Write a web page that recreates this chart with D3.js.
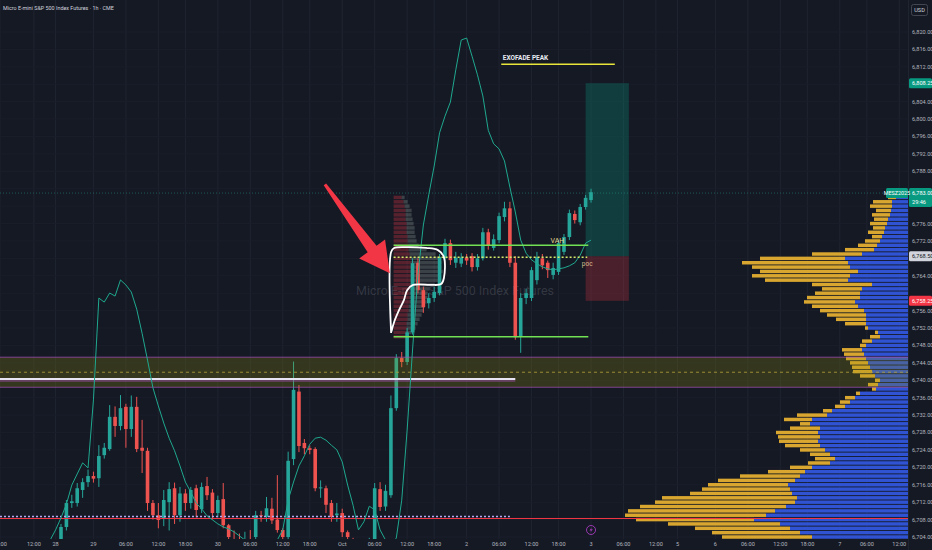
<!DOCTYPE html>
<html>
<head>
  <meta charset="utf-8">
  <title>MES 1h</title>
  <script src="https://cdn.jsdelivr.net/npm/d3@7/dist/d3.min.js"></script>
  <style>
    body { margin: 0; background: #151924; }
    svg { display: block; font-family: Roboto, "Noto Sans", sans-serif; }
  </style>
</head>
<body>
  <svg width="932" height="550" id="mainsvg"></svg>
  <script>
    // ---- data ----
    const timeLabels = ['18:00', '12:00', '28', '29', '06:00', '12:00', '18:00', '30', '06:00', '12:00', '18:00', 'Oct',
      '06:00', '12:00', '18:00', '2', '06:00', '12:00', '18:00', '3', '06:00', '12:00', '5', '6', '06:00', '12:00', '18:00', '7', '06:00', '12:00'];
    const timeIdx = [-63.3, -57, -53, -46, -40, -34, -29, -23, -17, -11, -6, 0,
      6, 12, 17, 23, 29, 35, 40, 46, 52, 58, 62, 69, 75, 81, 86, 92, 97, 103];

    const firstBar = -52;
    const opens = [6703, 6706.3, 6711.8, 6711.8, 6714.8, 6716.6, 6718, 6717.5, 6722.8, 6724.2, 6731.6, 6729.5, 6733.9, 6728.8, 6733.9,
      6724.5, 6723.8, 6711.8, 6709, 6708.3, 6712, 6715.2, 6709, 6714, 6711.8, 6715.2, 6710.4, 6715.7, 6714.2, 6709.5, 6712.7,
      6706.7, 6703.5, 6703, 6702, 6702.5, 6704, 6709, 6708.6, 6710.5, 6708, 6705.6, 6704, 6721.9, 6737.4, 6725.6, 6724.4, 6724.2,
      6715.2, 6715.2, 6711.8, 6709, 6709.5, 6705.1, 6703.5, 6701, 6700, 6701.5, 6703, 6715, 6711, 6713.6, 6733.6, 6745.1, 6744.2,
      6751, 6767, 6760.7, 6757.7, 6758.9, 6760, 6768, 6771.5, 6767, 6766.8, 6768.2, 6768.5, 6766, 6768, 6774, 6770.4, 6772.2,
      6777.5, 6779.5, 6767, 6750, 6758.9, 6758.9, 6763, 6768, 6767, 6764.2, 6764.9, 6769.5, 6772.9, 6778.2, 6776.3, 6779.8, 6781.4];
    const highs = [6707, 6712.5, 6713.7, 6716.4, 6717.5, 6719.5, 6719, 6725.1, 6725.6, 6734.3, 6734, 6736.6, 6734.6, 6736.5, 6736.2,
      6730.9, 6724.5, 6712.5, 6711.8, 6714.8, 6716.6, 6716.5, 6715.5, 6715, 6715.5, 6716, 6716.5, 6717.8, 6715, 6713.5, 6716.4,
      6707, 6705.5, 6704.8, 6705.2, 6705.6, 6710, 6710, 6713.2, 6713, 6718.2, 6706, 6723.6, 6744.3, 6738.9, 6726.5, 6725, 6724.6,
      6717, 6715.8, 6712.5, 6711.8, 6710.5, 6705.5, 6703.8, 6702, 6702.8, 6703.8, 6716.4, 6716.6, 6716, 6736.5, 6746, 6746.5, 6752,
      6768, 6768, 6761.5, 6760, 6761.5, 6769, 6772.5, 6772.3, 6769.5, 6769.2, 6769, 6769.2, 6769, 6775, 6774.8, 6773.5, 6778.5,
      6781, 6781, 6768.5, 6760, 6761, 6766, 6769.5, 6769, 6767.5, 6767, 6772.3, 6773.6, 6779.2, 6779, 6780.5, 6782.6, 6784];
    const lows = [6701, 6705.5, 6710.7, 6711, 6713, 6715.5, 6716.5, 6715.5, 6722, 6723.8, 6727, 6728.5, 6724.5, 6727, 6723.5,
      6718.7, 6710, 6708, 6706, 6706.5, 6705.5, 6707, 6707.5, 6710, 6710.5, 6708.5, 6709.5, 6712.5, 6708, 6708.5, 6706,
      6703.5, 6701, 6700, 6700, 6700, 6703, 6707.5, 6707.5, 6707, 6705, 6703, 6703.5, 6720.5, 6723.5, 6723, 6723, 6714.5,
      6713, 6709.5, 6707.5, 6707.5, 6704, 6702, 6699, 6698, 6699, 6700.5, 6702, 6710, 6710, 6713, 6733, 6743, 6743.5,
      6750.5, 6760, 6755.5, 6756.5, 6758, 6759.5, 6767.5, 6766.5, 6765.8, 6766, 6766.5, 6765, 6765.2, 6767.5, 6770, 6769.8, 6771.5,
      6776.5, 6766, 6749.3, 6746.3, 6757.5, 6758.2, 6762, 6765.5, 6763.5, 6763.2, 6764.2, 6768.8, 6772.2, 6776, 6775.6, 6779.2, 6780.8];
    const closes = [6706.3, 6711.8, 6712.2, 6715.2, 6716.6, 6718, 6717.4, 6722.6, 6724.5, 6731.6, 6729.5, 6733.6, 6728.8, 6733.9, 6724.2,
      6723.8, 6711.8, 6709, 6707.9, 6712.5, 6715, 6709, 6714, 6711.8, 6714.8, 6710.2, 6715.5, 6713.6, 6709.5, 6712.5, 6706.7,
      6704, 6703, 6702, 6702.5, 6702, 6709, 6708.8, 6710.6, 6707.8, 6705.6, 6704, 6721.5, 6737.8, 6724.9, 6724.4, 6724, 6715.2,
      6715.4, 6711.4, 6708.6, 6709.4, 6705.1, 6704, 6701, 6700, 6701.5, 6703, 6715.2, 6710.9, 6714.6, 6733.6, 6745.1, 6744.2, 6751,
      6766.9, 6760.7, 6756.8, 6758.9, 6760.3, 6768.3, 6771.5, 6767.6, 6768.2, 6768.2, 6767.5, 6766, 6768, 6774, 6771, 6772.4, 6777.7,
      6779.5, 6767, 6749.9, 6758.9, 6760, 6765.3, 6768.3, 6766.4, 6765.3, 6765.8, 6771.5, 6772.9, 6778.4, 6776.8, 6779.8, 6781.9, 6783.2];

    // oscillator overlay (own 0-100 scale)
    const indFirst = -54;
    const indValues = [0, 2, 4.4, 7.1, 10.9, 13.1, 15.3, 14.3, 27.8, 48, 47.2, 49, 48.4, 51.6, 50.6, 49.2, 45.8, 41, 35.7, 30.2,
      26.6, 23.2, 20.2, 17.7, 14.7, 11.5, 9.5, 7.3, 6.2, 4.8, 4, 3.2, 2.6, 2.2, 1.6, 0.8, 0, -1, -2, -1.6, -1, -0.4, 0, 2, 7.9,
      11.5, 14.7, 16.7, 19, 20.2, 20.4, 19.8, 18.8, 17.9, 15.5, 10.9, 6.9, 2, 3.6, 6.7, 6, 2, 0, -1, 0.4, 7.9, 21.8, 37.7, 52.6,
      62.5, 68.5, 74.2, 80.8, 84.1, 86.9, 93.3, 99.2, 99.6, 96, 92.3, 88.1, 81.3, 78.6, 77.6, 75.2, 70, 65.1, 59.5, 56.9, 55.6,
      54.8, 54.2, 53.8, 53.6, 53.8, 54, 54.4, 55, 56.5, 58.9, 59.5];

    // visible range volume profile, rows 6783 -> 6704
    const profTop = 6783;
    const profUp = [10, 12, 16, 16, 17, 18, 20, 21, 23, 24, 26, 28, 31, 34, 46, 63, 60, 58, 50, 58, 60, 36, 46, 48, 48, 53, 50, 44,
      42, 42, 42, 40, 30, 28, 36, 42, 46, 44, 42, 40, 38, 36, 33, 28, 30, 32, 48, 53, 58, 63, 76, 81, 96, 98, 88, 90, 88, 90, 88,
      83, 78, 73, 78, 96, 103, 108, 113, 120, 118, 116, 111, 113, 122, 133, 142, 154, 128, 118, 108, 96];
    const profDown = [8, 8, 19, 22, 15, 18, 14, 17, 12, 16, 10, 15, 19, 29, 50, 85, 106, 98, 98, 98, 83, 60, 40, 45, 53, 51, 46, 44,
      39, 30, 21, 3, 3, 10, 10, 6, 20, 20, 20, 18, 18, 19, 15, 5, 10, 4, 4, 10, 10, 10, 9, 30, 28, 10, 30, 42, 42, 39, 35, 25, 20,
      20, 22, 22, 37, 60, 77, 80, 88, 102, 135, 140, 146, 147, 141, 118, 112, 95, 88, 90];

    // session (fixed range) profile, rows 6782 -> 6750
    const sessTop = 6782;
    const sessSell = [8, 10, 11, 12, 12, 12, 13, 13, 13, 14, 14, 15, 15, 16, 17, 17, 17, 17, 17, 17, 17, 16, 16, 16, 16, 15, 15, 14, 14, 13, 13, 12, 11];
    const sessBuy = [3, 4, 5, 6, 6, 7, 7, 8, 8, 8, 9, 10, 18, 26, 30, 31, 31, 32, 30, 28, 24, 20, 18, 18, 17, 16, 15, 14, 12, 11, 9, 6, 4];

    // levels
    const zoneTop = 6745.3, zoneBottom = 6738.4, zoneMid = 6741.85, whiteLevel = 6740.3;
    const redLevel = 6708.25, dotLevel = 6708.7;
    const vah = 6771, val = 6750, poc = 6768.25;
    const peak = 6812.6;
    const entry = 6768.5, target = 6808.25, stop = 6758.25;
    const lastPrice = 6783.0;

    // hand drawings (bar index, price)
    const outline = [[9.04, 6750.85], [9.04, 6769.46], [9.59, 6770.38], [11.8, 6770.6], [15.5, 6770.4], [17.7, 6769.9], [18.8, 6768.3],
      [18.8, 6763.5], [18.3, 6762.1], [16.4, 6761.9], [13.1, 6761.9], [12.0, 6760.7], [11.4, 6758.4], [10.5, 6756.1], [9.6, 6753.4], [9.1, 6751.2]];
    const arrowTail = [-3.2, 6785], arrowTip = [8.8, 6764.6];

    // ---- chart ----
    const svg = d3.select('#mainsvg');
    const plotW = 908, plotH = 539;
    const x = d3.scaleLinear().domain([-63, 103]).range([1.5, 899.3]);
    const y = d3.scaleLinear().domain([6704, 6820]).range([537, 32]);
    const yInd = d3.scaleLinear().domain([0, 100]).range([540, 36]);
    const vol = d3.scaleLinear().domain([0, 100]).range([0, 100]);
    const fmt = d3.format(',.2f');
    const priceTicks = d3.range(6704, 6821, 4);

    svg.append('rect').attr('width', 932).attr('height', 550).attr('fill', '#151924');
    svg.append('clipPath').attr('id', 'plotclip').append('rect').attr('width', plotW).attr('height', plotH);
    const g = svg.append('g').attr('clip-path', 'url(#plotclip)');

    // grid
    g.append('g').selectAll('line').data(timeIdx).join('line')
      .attr('x1', d => x(d)).attr('x2', d => x(d)).attr('y1', 0).attr('y2', plotH)
      .attr('stroke', '#1f2431').attr('stroke-width', 1);
    g.append('g').selectAll('line').data(priceTicks).join('line')
      .attr('x1', 0).attr('x2', plotW).attr('y1', d => y(d)).attr('y2', d => y(d))
      .attr('stroke', '#1a1e2a').attr('stroke-width', 1);

    // watermark
    g.append('text').attr('x', 455).attr('y', 295).attr('text-anchor', 'middle')
      .attr('font-size', 12.5).attr('fill', 'rgba(178,181,190,0.2)')
      .text('Micro E-mini S&P 500 Index Futures');

    // long position
    const posFrom = x(45), posTo = x(53);
    g.append('rect').attr('x', posFrom).attr('width', posTo - posFrom)
      .attr('y', y(target)).attr('height', y(entry) - y(target)).attr('fill', 'rgba(8,153,129,0.28)');
    g.append('rect').attr('x', posFrom).attr('width', posTo - posFrom)
      .attr('y', y(entry)).attr('height', y(stop) - y(entry)).attr('fill', 'rgba(242,54,69,0.24)');

    // right volume profile
    const rowH = y(0) - y(1);
    const prof = profUp.map((u, i) => ({p: profTop - i, up: u, dn: profDown[i]}));
    const pg = g.append('g');
    pg.selectAll('.dn').data(prof).join('rect').attr('class', 'dn')
      .attr('x', d => plotW - vol(d.up + d.dn)).attr('width', d => vol(d.dn))
      .attr('y', d => y(d.p) - rowH * 0.4).attr('height', rowH * 0.8)
      .attr('fill', '#d9a62f');
    pg.selectAll('.up').data(prof).join('rect').attr('class', 'up')
      .attr('x', d => plotW - vol(d.up)).attr('width', d => vol(d.up))
      .attr('y', d => y(d.p) - rowH * 0.4).attr('height', rowH * 0.8)
      .attr('fill', '#2f53d2');

    // session profile
    const sx = x(9.5);
    const sess = sessSell.map((s, i) => ({p: sessTop - i, sell: s, buy: sessBuy[i]}));
    const sg = g.append('g');
    sg.selectAll('.sell').data(sess).join('rect').attr('class', 'sell')
      .attr('x', sx).attr('width', d => vol(d.sell))
      .attr('y', d => y(d.p) - rowH * 0.4).attr('height', rowH * 0.8)
      .attr('fill', 'rgba(242,54,69,0.3)');
    sg.selectAll('.buy').data(sess).join('rect').attr('class', 'buy')
      .attr('x', d => sx + vol(d.sell)).attr('width', d => vol(d.buy))
      .attr('y', d => y(d.p) - rowH * 0.4).attr('height', rowH * 0.8)
      .attr('fill', 'rgba(170,185,175,0.26)');

    // candles
    const bars = opens.map((o, i) => ({i: firstBar + i, o: o, h: highs[i], l: lows[i], c: closes[i]}));
    const cg = g.append('g');
    cg.selectAll('.wick').data(bars).join('line').attr('class', 'wick')
      .attr('x1', d => x(d.i)).attr('x2', d => x(d.i))
      .attr('y1', d => y(d.h)).attr('y2', d => y(d.l))
      .attr('stroke', d => d.c >= d.o ? '#26a69a' : '#ef5350').attr('stroke-width', 1);
    cg.selectAll('.body').data(bars).join('rect').attr('class', 'body')
      .attr('x', d => x(d.i) - 1.8).attr('width', 3.6)
      .attr('y', d => y(Math.max(d.o, d.c)))
      .attr('height', d => Math.max(1, Math.abs(y(d.o) - y(d.c))))
      .attr('fill', d => d.c >= d.o ? '#26a69a' : '#ef5350');

    // zone
    g.append('rect').attr('x', 0).attr('width', plotW)
      .attr('y', y(zoneTop)).attr('height', y(zoneBottom) - y(zoneTop))
      .attr('fill', 'rgba(155,150,10,0.23)');
    [zoneTop, zoneBottom].forEach(p => {
      g.append('line').attr('x1', 0).attr('x2', plotW).attr('y1', y(p)).attr('y2', y(p))
        .attr('stroke', 'rgba(170,80,190,0.7)').attr('stroke-width', 1);
    });
    g.append('line').attr('x1', 0).attr('x2', plotW).attr('y1', y(zoneMid)).attr('y2', y(zoneMid))
      .attr('stroke', '#b5a33a').attr('stroke-dasharray', '3,3').attr('stroke-width', 0.8);
    g.append('line').attr('x1', 0).attr('x2', x(32)).attr('y1', y(whiteLevel)).attr('y2', y(whiteLevel))
      .attr('stroke', '#e6e3f2').attr('stroke-width', 2);
    g.append('line').attr('x1', 0).attr('x2', x(32)).attr('y1', y(whiteLevel) + 2).attr('y2', y(whiteLevel) + 2)
      .attr('stroke', 'rgba(170,80,190,0.8)').attr('stroke-width', 1);

    // last price line
    g.append('line').attr('x1', 0).attr('x2', plotW).attr('y1', y(lastPrice)).attr('y2', y(lastPrice))
      .attr('stroke', 'rgba(38,166,154,0.45)').attr('stroke-dasharray', '1,2');

    // bottom levels
    g.append('line').attr('x1', 0).attr('x2', plotW).attr('y1', y(redLevel)).attr('y2', y(redLevel))
      .attr('stroke', '#f23645').attr('stroke-width', 1);
    g.append('line').attr('x1', 0).attr('x2', x(31)).attr('y1', y(dotLevel)).attr('y2', y(dotLevel))
      .attr('stroke', '#b7a6f0').attr('stroke-dasharray', '2,2').attr('stroke-width', 1.6);

    // oscillator line
    const ind = indValues.map((v, i) => [indFirst + i, v]);
    g.append('path').datum(ind)
      .attr('d', d3.line().x(d => x(d[0])).y(d => yInd(d[1])))
      .attr('fill', 'none').attr('stroke', '#1fa88f').attr('stroke-width', 1);

    // value area lines
    [vah, val].forEach(p => {
      g.append('line').attr('x1', x(9.5)).attr('x2', x(45.5)).attr('y1', y(p)).attr('y2', y(p))
        .attr('stroke', '#72e254').attr('stroke-width', 1.6);
    });
    g.append('line').attr('x1', x(9.5)).attr('x2', x(45.3)).attr('y1', y(poc)).attr('y2', y(poc))
      .attr('stroke', '#d6ea6a').attr('stroke-dasharray', '2,2').attr('stroke-width', 1.6);
    g.append('text').attr('x', x(38.5)).attr('y', y(vah) - 2.5).attr('font-size', 7)
      .attr('fill', '#e2d38a').text('VAH');
    g.append('text').attr('x', x(44.3)).attr('y', y(poc) + 8.5).attr('font-size', 6.5)
      .attr('fill', '#d9b98e').text('poc');

    // exofade peak
    g.append('line').attr('x1', x(29.4)).attr('x2', x(50.4)).attr('y1', y(peak)).attr('y2', y(peak))
      .attr('stroke', '#e8e63a').attr('stroke-width', 1.5);
    g.append('text').attr('x', x(29.7)).attr('y', y(peak) - 4.5).attr('font-size', 6.5)
      .attr('font-weight', 'bold').attr('fill', '#e8eaf0').text('EXOFADE PEAK');

    // white outline
    g.append('path').datum(outline)
      .attr('d', d3.line().x(d => x(d[0])).y(d => y(d[1])).curve(d3.curveCatmullRom))
      .attr('fill', 'none').attr('stroke', '#ffffff').attr('stroke-width', 1.8);

    // arrow
    const t0 = [x(arrowTail[0]), y(arrowTail[1])], t1 = [x(arrowTip[0]), y(arrowTip[1])];
    const len = Math.hypot(t1[0] - t0[0], t1[1] - t0[1]);
    const u = [(t1[0] - t0[0]) / len, (t1[1] - t0[1]) / len], n = [-u[1], u[0]];
    const neck = [t1[0] - u[0] * 30, t1[1] - u[1] * 30];
    const pt = (b, k) => [b[0] + n[0] * k, b[1] + n[1] * k];
    const arrowPts = [pt(t0, 1.5), pt(neck, 5.5), pt(neck, 16), t1, pt(neck, -16), pt(neck, -5.5), pt(t0, -1.5)];
    g.append('path').attr('d', 'M' + arrowPts.map(p => p.join(',')).join('L') + 'Z').attr('fill', '#f23645');

    // lightning marker
    const lx = x(46), ly = 530;
    g.append('circle').attr('cx', lx).attr('cy', ly).attr('r', 4.5)
      .attr('fill', 'none').attr('stroke', '#a83bc0').attr('stroke-width', 0.9);
    g.append('path').attr('d', `M${lx + 1},${ly - 3}L${lx - 1.5},${ly + 0.5}L${lx + 0.3},${ly + 0.5}L${lx - 1},${ly + 3}L${lx + 1.8},${ly - 0.8}L${lx},${ly - 0.8}Z`)
      .attr('fill', '#a83bc0');

    // ---- axes ----
    // price tags placed on the axis; plain ticks under them are hidden
    const tags = [
      {p: target, text: fmt(target), bg: '#089981', fg: '#ffffff', h: 10},
      {p: entry, text: fmt(entry), bg: '#d1d4dc', fg: '#131722', h: 10},
      {p: stop, text: fmt(stop), bg: '#f23645', fg: '#ffffff', h: 10}
    ];
    const lastTop = y(lastPrice) - 5, lastBottom = y(lastPrice) + 14;
    const freeTick = d => {
      const ty = y(d);
      if (ty > lastTop - 4 && ty < lastBottom + 4) return false;
      return tags.every(t => Math.abs(y(t.p) - ty) > 9);
    };

    svg.append('line').attr('x1', plotW + 0.5).attr('x2', plotW + 0.5).attr('y1', 0).attr('y2', 550)
      .attr('stroke', '#1f2431');
    svg.append('g').selectAll('text').data(priceTicks.filter(freeTick)).join('text')
      .attr('x', 912).attr('y', d => y(d)).attr('dy', '0.35em')
      .attr('font-size', 5.6).attr('fill', '#b2b5be').text(d => fmt(d));

    svg.append('g').selectAll('text').data(timeLabels).join('text')
      .attr('x', (d, i) => x(timeIdx[i])).attr('y', 545.5).attr('text-anchor', 'middle')
      .attr('font-size', 5.6).attr('fill', '#b2b5be').text(d => d);

    tags.forEach(t => {
      const ty = y(t.p);
      svg.append('rect').attr('x', 909).attr('y', ty - t.h / 2).attr('width', 23).attr('height', t.h)
        .attr('rx', 1.5).attr('fill', t.bg);
      svg.append('text').attr('x', 912).attr('y', ty).attr('dy', '0.35em')
        .attr('font-size', 5.6).attr('fill', t.fg).text(t.text);
    });

    // last price box with countdown and symbol
    const ly0 = y(lastPrice);
    svg.append('rect').attr('x', 909).attr('y', lastTop).attr('width', 23).attr('height', lastBottom - lastTop)
      .attr('rx', 1.5).attr('fill', '#089981');
    svg.append('text').attr('x', 912).attr('y', ly0).attr('dy', '0.35em')
      .attr('font-size', 5.6).attr('fill', '#ffffff').text(fmt(lastPrice));
    svg.append('text').attr('x', 912).attr('y', ly0 + 8.5).attr('dy', '0.35em')
      .attr('font-size', 5.6).attr('fill', '#ffffff').text('29:46');
    svg.append('rect').attr('x', 886).attr('y', ly0 - 5).attr('width', 22).attr('height', 10)
      .attr('rx', 1.5).attr('fill', '#089981');
    svg.append('text').attr('x', 897).attr('y', ly0).attr('dy', '0.35em').attr('text-anchor', 'middle')
      .attr('font-size', 5.4).attr('fill', '#ffffff').text('MESZ2025');

    // currency box
    svg.append('rect').attr('x', 911.5).attr('y', 4.5).attr('width', 16).attr('height', 11)
      .attr('rx', 2).attr('fill', '#151924').attr('stroke', '#434651');
    svg.append('text').attr('x', 919.5).attr('y', 10).attr('dy', '0.35em').attr('text-anchor', 'middle')
      .attr('font-size', 5.6).attr('fill', '#d1d4dc').text('USD');

    // title
    svg.append('text').attr('x', 3).attr('y', 9.5).attr('font-size', 5.4).attr('fill', '#d1d4dc')
      .text('Micro E-mini S&P 500 Index Futures · 1h · CME');
  </script>
</body>
</html>
